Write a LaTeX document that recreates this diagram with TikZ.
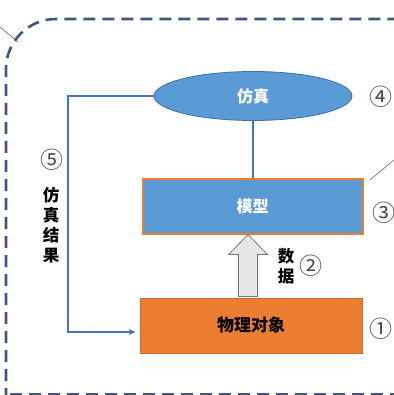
\documentclass[tikz,border=0pt]{standalone}
\usepackage{fontspec}
\newfontfamily\cjk{Noto Sans CJK SC}
\usetikzlibrary{calc,arrows.meta,shapes.geometric}
\definecolor{frameblue}{RGB}{68,84,128}
\definecolor{fillblue}{RGB}{91,155,213}
\definecolor{edgeblue}{RGB}{65,113,156}
\definecolor{lineblue}{RGB}{68,114,196}
\definecolor{orangeA}{RGB}{237,125,49}
\definecolor{orangeB}{RGB}{200,110,50}
\definecolor{arrowgray}{RGB}{231,230,230}
\definecolor{arrowedge}{RGB}{120,120,120}
\definecolor{numgray}{RGB}{70,70,70}
\tikzset{
  x=1pt, y=-1pt,
  frame/.style={draw=frameblue, line width=2.6pt, dash pattern=on 12pt off 7pt},
  simnode/.style={ellipse, draw=edgeblue, line width=0.8pt, fill=fillblue, minimum width=198pt, minimum height=49pt, inner sep=0pt, text=white, font=\cjk\bfseries\fontsize{16}{16}\selectfont},
  modelnode/.style={rectangle, draw=orangeA, line width=2pt, fill=fillblue, minimum width=220pt, minimum height=55pt, inner sep=0pt, text=white, font=\cjk\bfseries\fontsize{16}{16}\selectfont},
  physnode/.style={rectangle, draw=orangeB, line width=0.7pt, fill=orangeA, minimum width=222pt, minimum height=55pt, inner sep=0pt, text=black, font=\cjk\bfseries\fontsize{17}{17}\selectfont},
  conn/.style={draw=lineblue, line width=1.5pt},
  blockarrow/.style={draw=arrowedge, line width=0.8pt, fill=arrowgray, line join=miter},
  num/.style={text=numgray, font=\cjk\fontsize{23}{23}\selectfont, inner sep=0pt},
  vlabel/.style={align=center, text=black, font=\cjk\bfseries\fontsize{16.5}{20}\selectfont, inner sep=0pt},
  thin/.style={draw=gray!80!blue, line width=0.6pt}
}
\begin{document}
\begin{tikzpicture}
\useasboundingbox (0,0) rectangle (393,395);
% dashed frame
\draw[frame, rounded corners=50pt] (6,400) -- (6,19) -- (430,19);
\draw[frame] (10,394) -- (400,394);
% thin external lines
\draw[thin] (0,27) -- (18,42);
\draw[thin] (370,180) -- (400,155);
% nodes
\node[simnode] (sim) at (253,96) {仿真};
\node[modelnode] (model) at (252.5,206) {模型};
\node[physnode] (phys) at (251,325.5) {物理对象};
% connectors
\draw[conn] (sim.south) -- (sim.south |- model.north);
\coordinate (lc) at (68,332);
\draw[conn, line width=1.3pt, -{Stealth[length=7pt,width=6pt]}, shorten >=4pt] (sim.west) -| (lc) -- (lc -| phys.west);
\coordinate (tip) at ([xshift=-4.5pt]model.south);
\draw[blockarrow] (tip) -- ++(19.5,20) -- ++(-10,0) -- ++(0,42) -- ++(-19,0) -- ++(0,-42) -- ++(-10,0) -- cycle;
% labels
\node[num] (n4) at (381,97) {④};
\node[num] (n3) at (384,213) {③};
\node[num] (n2) at (311,266) {②};
\node[num] (n1) at (381,329) {①};
\node[num] (n5) at (52,160) {⑤};
\node[vlabel] (res) at (51,225) {仿\\真\\结\\果};
\node[vlabel] (dat) at (286,266) {数\\据};
\end{tikzpicture}
\end{document}
